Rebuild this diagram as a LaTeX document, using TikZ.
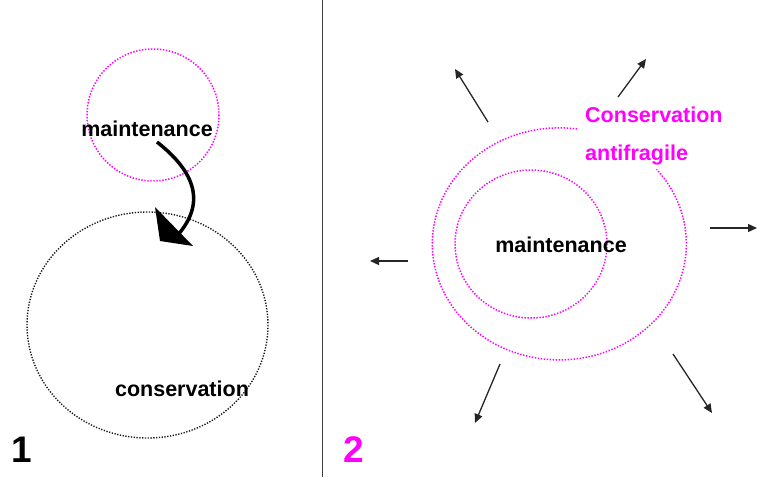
\documentclass[tikz,border=0pt]{standalone}
\usepackage{fontspec}
\setmainfont{Liberation Sans}
\usetikzlibrary{arrows.meta}
\definecolor{mag}{HTML}{FF00FF}
\begin{document}
\begin{tikzpicture}[x=1pt,y=-1pt,
  lbl/.style={font=\bfseries\fontsize{21.5}{24}\selectfont, inner sep=0pt, anchor=base},
  num/.style={font=\bfseries\fontsize{37}{40}\selectfont, inner sep=0pt, anchor=base west},
  magdots/.style={draw=mag, line width=1.5pt, dash pattern=on 1.4pt off 1.6pt},
  blackdots/.style={draw=black!90, line width=1.4pt, dash pattern=on 1.3pt off 1.5pt},
  radarrow/.style={draw=black!85, line width=1.3pt, -{Triangle[length=9pt,width=8pt]}}]
\useasboundingbox (0,0) rectangle (758,477);
% divider
\draw[line width=1pt, black!75] (322,0) -- (322,477);
% left panel
\draw[magdots] (153,115) circle[radius=66];
\draw[blackdots] (147.5,325) ellipse[x radius=120.5, y radius=113];
\node[lbl] (m1) at (147,136) {maintenance};
\node[lbl] (c1) at (182,396) {conservation};
\coordinate (s) at (157,142);
\coordinate (e) at (176,237);
\draw[line width=3.5pt] (s) .. controls (190,168) and (210,200) .. (e);
\fill (155,207) -- (160,241) -- (193,246) -- cycle;
\node[num] (n1) at (11,462) {1};
% right panel
\draw[magdots] (531,244) ellipse[x radius=76, y radius=74];
\draw[magdots] (577,129) arc[start angle=-82, end angle=-400, x radius=127, y radius=116];
\node[lbl] (m2) at (561,252) {maintenance};
\node[lbl, anchor=base west, text=mag] (cv) at (585,122) {Conservation};
\node[lbl, anchor=base west, text=mag] (af) at (585,160) {antifragile};
\node[num, text=mag] (n2) at (343,462) {2};
\coordinate (a1) at (488,122); \coordinate (b1) at (455,69);
\coordinate (a2) at (618,97);  \coordinate (b2) at (646,59);
\coordinate (a3) at (710,228); \coordinate (b3) at (757,228);
\coordinate (a4) at (408,261); \coordinate (b4) at (370,261);
\coordinate (a5) at (500,364); \coordinate (b5) at (475,423);
\coordinate (a6) at (673,354); \coordinate (b6) at (712,413);
\foreach \i in {1,...,6} \draw[radarrow] (a\i) -- (b\i);
\end{tikzpicture}
\end{document}
